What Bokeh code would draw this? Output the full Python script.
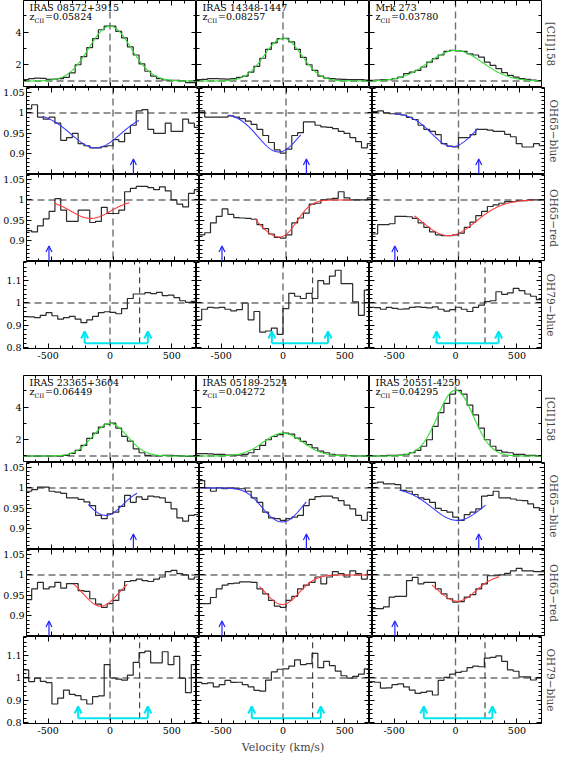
import numpy as np
from bokeh.plotting import figure
from bokeh.layouts import row, column
from bokeh.models import LinearAxis, FixedTicker, PrintfTickFormatter, Span, Label, Arrow, OpenHead
from bokeh.embed import file_html
from bokeh.resources import INLINE

# ---------------- data ----------------
VEL = [-681.5, -634.5, -587.5, -540.5, -493.5, -446.5, -399.5, -352.5, -305.5, -258.5,
       -211.5, -164.5, -117.5, -70.5, -23.5, 23.5, 70.5, 117.5, 164.5, 211.5,
       258.5, 305.5, 352.5, 399.5, 446.5, 493.5, 540.5, 587.5, 634.5, 681.5]
BIN_W = 47.0

SOURCES = ["IRAS 08572+3915", "IRAS 14348-1447", "Mrk 273",
           "IRAS 23365+3604", "IRAS 05189-2524", "IRAS 20551-4250"]
Z_CII = ["0.05824", "0.08257", "0.03780", "0.06449", "0.04272", "0.04295"]
ROW_LABELS = ["[CII]158", "OH65\u2212blue", "OH65\u2212red", "OH79\u2212blue"]

cii_08572 = [1.08, 1.14, 1.18, 1.16, 1.1, 1.12, 1.14, 1.22, 1.5, 2.0, 2.5, 3.05, 3.6, 4.15, 4.38,
             4.38, 4.05, 3.65, 3.1, 2.6, 2.05, 1.6, 1.3, 1.15, 1.06, 1.04, 1.04, 1.02, 0.9, 0.9]
oh65b_08572 = [1.01, 1.02, 0.99, 0.985, 0.99, 0.975, 0.933, 0.94, 0.95, 0.925, 0.92, 0.915, 0.915, 0.918, 0.92,
               0.935, 0.93, 0.95, 0.97, 1.005, 1.008, 0.96, 0.95, 0.95, 0.975, 0.955, 0.955, 0.985, 0.975, 0.965]
oh65r_08572 = [0.925, 0.922, 0.937, 0.954, 0.972, 1.003, 0.975, 0.948, 0.948, 0.975, 0.975, 0.945, 0.948, 0.982, 0.967,
               0.967, 0.975, 1.02, 1.028, 1.033, 1.033, 1.03, 1.025, 1.032, 1.022, 1.0, 0.99, 0.983, 1.016, 1.025]
oh79_08572 = [0.939, 0.938, 0.935, 0.945, 0.957, 0.943, 0.928, 0.935, 0.94, 0.928, 0.912, 0.925, 0.94, 0.957, 0.961,
              0.958, 0.952, 0.975, 1.02, 1.04, 1.04, 1.046, 1.042, 1.047, 1.033, 1.035, 1.024, 1.01, 1.003, 1.007]

cii_14348 = [1.08, 1.1, 1.14, 1.14, 1.13, 1.12, 1.15, 1.22, 1.3, 1.55, 1.9, 2.4, 2.95, 3.35, 3.6,
             3.63, 3.4, 2.95, 2.45, 2.0, 1.65, 1.3, 1.18, 1.15, 1.12, 1.1, 1.08, 1.08, 1.08, 1.06]
oh65b_14348 = [1.005, 0.99, 0.99, 0.99, 0.99, 0.993, 0.99, 0.986, 0.98, 0.972, 0.96, 0.945, 0.928, 0.91, 0.902,
               0.912, 0.945, 0.952, 0.978, 0.978, 0.97, 0.966, 0.965, 0.962, 0.955, 0.95, 0.94, 0.93, 0.915, 0.925]
oh65r_14348 = [0.915, 0.92, 0.944, 0.96, 0.978, 0.965, 0.957, 0.956, 0.955, 0.953, 0.94, 0.93, 0.917, 0.909, 0.907,
               0.915, 0.944, 0.956, 0.968, 0.99, 0.992, 1.0, 1.002, 1.004, 1.02, 1.005, 1.0, 1.0, 1.0, 1.005]
oh79_14348 = [0.925, 0.972, 0.98, 0.978, 0.98, 0.972, 0.965, 0.97, 1.0, 0.925, 0.962, 0.87, 0.875, 0.888, 0.86,
              0.975, 1.043, 1.03, 1.02, 1.043, 1.02, 1.1, 1.085, 1.12, 1.146, 1.086, 1.086, 1.005, 0.945, 1.057]

cii_mrk273 = [1.04, 1.06, 1.08, 1.08, 1.14, 1.24, 1.45, 1.55, 1.65, 1.86, 2.16, 2.37, 2.6, 2.82, 2.88,
              2.85, 2.82, 2.67, 2.6, 2.47, 2.16, 1.96, 1.76, 1.51, 1.35, 1.24, 1.14, 1.1, 1.06, 1.02]
oh65b_mrk273 = [1.003, 1.005, 1.0, 0.998, 0.997, 0.995, 0.989, 0.984, 0.97, 0.96, 0.955, 0.947, 0.925, 0.919, 0.917,
                0.94, 0.94, 0.947, 0.96, 0.96, 0.958, 0.955, 0.955, 0.948, 0.942, 0.925, 0.917, 0.917, 0.925, 0.92]
oh65r_mrk273 = [0.917, 0.94, 0.94, 0.942, 0.96, 0.96, 0.959, 0.955, 0.944, 0.933, 0.922, 0.915, 0.913, 0.913, 0.915,
                0.919, 0.933, 0.946, 0.962, 0.972, 0.984, 0.988, 0.992, 0.996, 0.996, 0.998, 0.998, 1.0, 1.0, 1.0]
oh79_mrk273 = [0.981, 0.979, 0.972, 0.98, 0.976, 0.972, 0.974, 0.98, 0.983, 0.98, 0.978, 0.983, 0.972, 0.964, 0.97,
               0.981, 0.972, 0.962, 0.98, 0.99, 1.006, 1.01, 1.05, 1.038, 1.045, 1.065, 1.055, 1.04, 1.03, 1.015]

cii_23365 = [1.0, 1.0, 0.99, 1.0, 1.0, 1.0, 1.01, 1.04, 1.16, 1.34, 1.65, 2.08, 2.41, 2.78, 2.96,
             3.02, 2.72, 2.21, 1.91, 1.44, 1.2, 1.04, 1.0, 1.02, 1.04, 1.04, 1.02, 1.0, 0.98, 0.98]
oh65b_23365 = [0.992, 0.996, 1.002, 1.002, 0.992, 0.99, 0.987, 0.976, 0.976, 0.972, 0.966, 0.957, 0.933, 0.925, 0.937,
               0.941, 0.955, 0.982, 0.965, 0.978, 0.972, 0.98, 0.978, 0.976, 0.965, 0.949, 0.927, 0.919, 0.933, 0.935]
oh65r_23365 = [0.94, 0.966, 0.982, 0.966, 0.971, 0.982, 0.968, 0.979, 0.979, 0.962, 0.96, 0.942, 0.929, 0.921, 0.93,
               0.938, 0.963, 0.984, 0.986, 0.99, 0.986, 0.984, 0.99, 0.995, 1.008, 1.011, 1.003, 1.0, 0.99, 0.995]
oh79_23365 = [1.036, 0.984, 0.999, 0.985, 0.979, 0.884, 0.91, 0.946, 0.927, 0.921, 0.903, 0.884, 0.917, 0.92, 1.06,
              1.0, 0.995, 0.99, 1.013, 1.07, 1.113, 1.12, 1.067, 1.067, 1.117, 1.06, 1.096, 0.999, 0.935, 1.06]

cii_05189 = [1.14, 1.14, 1.13, 1.1, 1.1, 1.06, 1.05, 1.05, 1.1, 1.2, 1.4, 1.65, 2.0, 2.2, 2.31,
             2.41, 2.35, 2.1, 1.9, 1.7, 1.5, 1.3, 1.2, 1.1, 1.05, 1.05, 1.03, 1.0, 1.0, 1.0]
oh65b_05189 = [1.018, 1.0, 0.992, 1.0, 0.998, 1.0, 0.998, 0.998, 0.992, 0.976, 0.965, 0.941, 0.927, 0.925, 0.921,
               0.925, 0.929, 0.933, 0.957, 0.972, 0.979, 0.98, 0.98, 0.976, 0.969, 0.958, 0.949, 0.933, 0.921, 0.941]
oh65r_05189 = [0.93, 0.93, 0.945, 0.966, 0.975, 0.979, 0.98, 0.983, 0.983, 0.982, 0.966, 0.954, 0.938, 0.924, 0.921,
               0.938, 0.948, 0.966, 0.975, 0.982, 0.995, 0.978, 0.995, 1.008, 1.003, 0.995, 1.01, 1.003, 0.99, 1.011]
oh79_05189 = [0.98, 0.975, 0.978, 0.96, 0.97, 0.989, 0.98, 0.981, 0.97, 0.96, 0.945, 0.941, 0.99, 1.027, 1.039,
              1.041, 1.053, 1.081, 1.06, 1.064, 1.11, 1.046, 1.074, 1.055, 1.031, 1.01, 0.999, 1.007, 1.017, 1.041]

cii_20551 = [1.0, 1.0, 1.02, 1.04, 1.04, 1.06, 1.1, 1.2, 1.34, 1.6, 2.0, 2.82, 3.67, 4.23, 4.8,
             5.04, 4.8, 4.13, 3.53, 2.72, 2.0, 1.6, 1.34, 1.24, 1.2, 1.1, 1.1, 1.04, 1.04, 1.0]
oh65b_20551 = [1.012, 1.014, 1.01, 1.01, 1.008, 0.994, 0.992, 0.984, 0.976, 0.972, 0.965, 0.95, 0.945, 0.941, 0.929,
               0.921, 0.935, 0.941, 0.949, 0.98, 0.982, 0.992, 0.976, 0.976, 0.973, 0.97, 0.969, 0.961, 0.952, 0.945]
oh65r_20551 = [0.918, 0.918, 0.922, 0.946, 0.948, 0.948, 0.986, 0.994, 0.978, 0.982, 0.982, 0.966, 0.954, 0.942, 0.934,
               0.935, 0.946, 0.952, 0.966, 0.978, 0.998, 0.998, 1.0, 1.004, 1.01, 1.016, 1.01, 1.01, 1.008, 1.008]
oh79_20551 = [0.984, 0.981, 0.955, 0.956, 0.97, 0.974, 0.96, 0.946, 0.931, 0.936, 0.941, 0.924, 0.989, 1.003, 1.017,
              1.025, 1.03, 1.046, 1.053, 1.05, 1.089, 1.092, 1.099, 1.074, 1.036, 1.03, 1.005, 1.005, 0.991, 1.0]

SPECTRA = [
    [cii_08572, oh65b_08572, oh65r_08572, oh79_08572],
    [cii_14348, oh65b_14348, oh65r_14348, oh79_14348],
    [cii_mrk273, oh65b_mrk273, oh65r_mrk273, oh79_mrk273],
    [cii_23365, oh65b_23365, oh65r_23365, oh79_23365],
    [cii_05189, oh65b_05189, oh65r_05189, oh79_05189],
    [cii_20551, oh65b_20551, oh65r_20551, oh79_20551],
]

# Gaussian fits: CII emission (base, amplitude, centre, sigma)
CII_FIT = [(1.0, 3.37, 0, 169), (1.0, 2.63, 0, 150), (1.0, 1.88, 0, 219),
           (1.0, 2.0, 0, 141), (1.0, 1.4, 0, 160), (1.0, 4.05, 0, 145)]
# OH65 absorption fits: list of (centre, depth, sigma) components, v_min, v_max
OH65B_FIT = [([(-140, 0.085, 200)], -570, 210),
             ([(-60, 0.095, 167)], -465, 120),
             ([(-50, 0.082, 170)], -520, 160),
             ([(-60, 0.067, 140)], -200, 195),
             ([(-100, 0.06, 120), (60, 0.045, 110)], -690, 165),
             ([(-10, 0.079, 205)], -480, 220)]
OH65R_FIT = [([(-180, 0.045, 160)], -476, 133),
             ([(-20, 0.08, 115), (-200, 0.04, 100)], -253, 532),
             ([(-80, 0.087, 220)], -360, 600),
             ([(-100, 0.076, 140)], -320, 115),
             ([(-30, 0.072, 135)], -215, 670),
             ([(-10, 0.064, 150)], -215, 330)]
BLUE_ARROW_V = 165
RED_ARROW_V = -518
ARROW_TIP = 0.888
OH79_MARK_V = 240
BRACKET_Y = 0.82
BRACKET_TIP = 0.873
BRACKET_LO = [-205, -90, -154, -258, -253, -258]
BRACKET_HI = [306, 364, 351, 306, 306, 300]

# ---------------- style ----------------
FONT = "DejaVu Serif"
X_RANGE = (-700, 700)
Y_RANGES = [(0.6, 5.95), (0.85, 1.062), (0.85, 1.062), (0.797, 1.185)]
Y_MAJOR = [[2, 4], [0.9, 0.95, 1.0, 1.05], [0.9, 0.95, 1.0, 1.05], [0.8, 0.9, 1.0, 1.1]]
Y_MINOR = [[1, 3, 5],
           [round(0.85 + 0.01 * i, 2) for i in range(22)],
           [round(0.85 + 0.01 * i, 2) for i in range(22)],
           [round(0.8 + 0.02 * i, 2) for i in range(20)]]
FW = [173, 173, 172]
FH = 87
LEFT_B = 23
RIGHT_B = 15
HIST_C = "#2a2a2a"
DASH_C = "#707070"
FIT_C = ["#33e033", "#3a3aff", "#ff3b3b"]
ARROW_C = "#1f1fff"
CYAN = "#00e6f0"


def style_axis(ax, show):
    ax.axis_line_color = None
    ax.major_tick_in = 5
    ax.major_tick_out = 0
    ax.minor_tick_in = 3
    ax.minor_tick_out = 0
    ax.major_tick_line_color = "black"
    ax.minor_tick_line_color = "black"
    if show:
        ax.formatter = PrintfTickFormatter(format="%g")
        ax.major_label_text_font = FONT
        ax.major_label_text_font_size = "9.5px"
        ax.major_label_text_color = "black"
        ax.major_label_standoff = 3
    else:
        ax.major_label_text_font_size = "0px"
        ax.major_label_text_alpha = 0
        ax.major_label_standoff = 0


def xticker():
    return FixedTicker(ticks=[-500, 0, 500], minor_ticks=list(range(-700, 701, 100)))


def yticker(r):
    return FixedTicker(ticks=Y_MAJOR[r], minor_ticks=Y_MINOR[r])


def panel(block, r, col):
    src = block * 3 + col
    ylo, yhi = Y_RANGES[r]
    last = r == 3
    mbb = (27 if block == 0 else 33) if last else 0
    p = figure(frame_width=FW[col], frame_height=FH, x_range=X_RANGE, y_range=(ylo, yhi),
               x_axis_type=None, y_axis_type=None, output_backend="svg",
               toolbar_location=None, title=None,
               min_border_left=LEFT_B if col == 0 else 0,
               min_border_right=RIGHT_B if col == 2 else 0,
               min_border_top=0, min_border_bottom=mbb)
    p.outline_line_color = "black"
    p.outline_line_width = 1
    p.background_fill_color = "white"
    p.border_fill_color = "white"

    # axes on all four sides, ticks pointing inwards
    bx = LinearAxis(ticker=xticker()) if last else LinearAxis(ticker=xticker(), fixed_location=ylo)
    style_axis(bx, last)
    if last and block == 1 and col == 1:
        bx.axis_label = "Velocity (km/s)"
        bx.axis_label_text_font = FONT
        bx.axis_label_text_font_size = "11px"
        bx.axis_label_text_font_style = "normal"
        bx.axis_label_standoff = 4
    p.add_layout(bx, "below")
    tx = LinearAxis(ticker=xticker(), fixed_location=yhi)
    style_axis(tx, False)
    p.add_layout(tx, "above")
    ly = LinearAxis(ticker=yticker(r)) if col == 0 else LinearAxis(ticker=yticker(r), fixed_location=X_RANGE[0])
    style_axis(ly, col == 0)
    if col == 0:
        ly.major_label_standoff = 2
    p.add_layout(ly, "left")
    if col == 2:
        ry = LinearAxis(ticker=yticker(r))
        style_axis(ry, False)
        ry.axis_label = ROW_LABELS[r]
        ry.axis_label_text_font = FONT
        ry.axis_label_text_font_size = "10.5px"
        ry.axis_label_text_font_style = "normal"
        ry.axis_label_standoff = 3
    else:
        ry = LinearAxis(ticker=yticker(r), fixed_location=X_RANGE[1])
        style_axis(ry, False)
    p.add_layout(ry, "right")

    # reference lines
    p.add_layout(Span(location=1.0, dimension="width", line_color=DASH_C, line_width=1.4,
                      line_dash="7 4", level="underlay"))
    p.add_layout(Span(location=0, dimension="height", line_color=DASH_C, line_width=1.4,
                      line_dash="7 4", level="underlay"))

    # spectrum as histogram steps
    vals = SPECTRA[src][r]
    xs, ys = [], []
    for v, y in zip(VEL, vals):
        xs += [v - BIN_W / 2, v + BIN_W / 2]
        ys += [y, y]
    p.line(xs, ys, line_color=HIST_C, line_width=1.2)

    if r == 0:
        base, amp, c, s = CII_FIT[src]
        vv = np.linspace(X_RANGE[0], X_RANGE[1], 281)
        yy = base + amp * np.exp(-(vv - c) ** 2 / (2 * s ** 2))
        p.line(vv, yy, line_color=FIT_C[0], line_width=1.1)
        p.add_layout(Label(x=X_RANGE[0], y=yhi, x_offset=6, y_offset=-12, text=SOURCES[src],
                           text_font=FONT, text_font_size="9.5px", text_color="black"))
        p.add_layout(Label(x=X_RANGE[0], y=yhi, x_offset=6, y_offset=-21, text="z",
                           text_font=FONT, text_font_size="9.5px", text_color="black"))
        p.add_layout(Label(x=X_RANGE[0], y=yhi, x_offset=11, y_offset=-23, text="CII",
                           text_font=FONT, text_font_size="6.2px", text_color="black"))
        p.add_layout(Label(x=X_RANGE[0], y=yhi, x_offset=21.5, y_offset=-21, text="=" + Z_CII[src],
                           text_font=FONT, text_font_size="9.5px", text_color="black"))
    elif r in (1, 2):
        comps, vmin, vmax = (OH65B_FIT if r == 1 else OH65R_FIT)[src]
        vv = np.linspace(vmin, vmax, 200)
        yy = np.ones_like(vv)
        for c, d, s in comps:
            yy = yy - d * np.exp(-(vv - c) ** 2 / (2 * s ** 2))
        p.line(vv, yy, line_color=FIT_C[r], line_width=1.1)
        av = BLUE_ARROW_V if r == 1 else RED_ARROW_V
        p.add_layout(Arrow(end=OpenHead(size=6, line_color=ARROW_C, line_width=1.2),
                           x_start=av, y_start=ylo, x_end=av, y_end=ARROW_TIP,
                           line_color=ARROW_C, line_width=1.2))
    else:
        p.segment(x0=[OH79_MARK_V], y0=[BRACKET_Y], x1=[OH79_MARK_V], y1=[yhi],
                  line_color="#222222", line_width=1, line_dash="6 4")
        lo, hi = BRACKET_LO[src], BRACKET_HI[src]
        p.segment(x0=[lo], y0=[BRACKET_Y], x1=[hi], y1=[BRACKET_Y], line_color=CYAN, line_width=2)
        for v in (lo, hi):
            p.add_layout(Arrow(end=OpenHead(size=7, line_color=CYAN, line_width=2),
                               x_start=v, y_start=BRACKET_Y, x_end=v, y_end=BRACKET_TIP,
                               line_color=CYAN, line_width=2))
    return p


rows = []
for block in range(2):
    for r in range(4):
        rows.append(row(*[panel(block, r, c) for c in range(3)]))
layout = column(*rows)

open("out.html", "w").write(file_html(layout, INLINE))
